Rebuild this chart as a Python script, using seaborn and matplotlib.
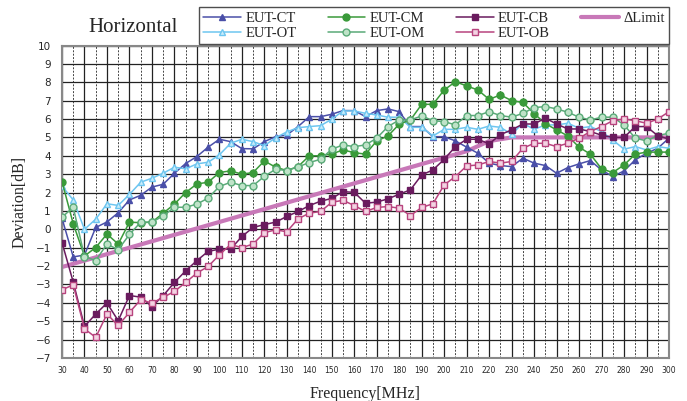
import numpy as np
import pandas as pd
import matplotlib
matplotlib.use("Agg")
import matplotlib.pyplot as plt
import seaborn as sns

freq = list(range(30, 301, 5))

eut_ct = [0.6, -1.5, -1.4, 0.1, 0.4, 0.9, 1.6, 1.85, 2.3, 2.45, 3.05, 3.58, 3.96, 4.47, 4.9,
          4.77, 4.39, 4.38, 4.77, 5.04, 5.13, 5.59, 6.13, 6.13, 6.26, 6.46, 6.46, 6.13, 6.46, 6.55,
          6.4, 5.59, 5.59, 5.04, 5.04, 4.81, 4.47, 4.14, 3.6, 3.47, 3.41, 3.87, 3.6, 3.47, 3.05,
          3.36, 3.56, 3.74, 3.23, 2.87, 3.18, 3.78, 4.14, 4.41, 4.96]
eut_ot = [2.35, 1.6, 0.0, 0.55, 1.39, 1.3, 1.9, 2.56, 2.78, 3.05, 3.38, 3.29, 3.56, 3.65, 4.05,
          4.68, 4.9, 4.77, 4.55, 4.98, 5.3, 5.53, 5.59, 5.64, 5.99, 6.44, 6.44, 6.31, 6.22, 6.1,
          6.1, 5.55, 5.55, 5.08, 5.44, 5.44, 5.55, 5.44, 5.62, 5.55, 5.17, 5.77, 5.44, 5.68, 5.68,
          5.77, 5.5, 5.59, 5.32, 4.86, 4.36, 4.5, 4.32, 4.5, 4.41]
eut_cm = [2.6, 0.3, -1.45, -0.99, -0.26, -0.8, 0.39, 0.36, 0.39, 0.88, 1.37, 2.0, 2.47, 2.56, 3.09,
          3.18, 3.0, 3.09, 3.72, 3.38, 3.2, 3.41, 4.0, 4.0, 4.1, 4.32, 4.17, 4.09, 4.81, 5.08,
          5.72, 5.95, 6.8, 6.8, 7.58, 8.03, 7.8, 7.58, 7.07, 7.31, 7.0, 6.9, 6.3, 5.75, 5.41,
          5.08, 4.47, 4.09, 3.29, 3.09, 3.5, 4.09, 4.2, 4.2, 4.2]
eut_om = [0.66, 1.2, -1.48, -1.7, -0.8, -1.11, -0.28, 0.39, 0.39, 0.73, 1.2, 1.2, 1.37, 1.7, 2.33,
          2.56, 2.38, 2.38, 2.88, 3.27, 3.2, 3.4, 3.63, 3.81, 4.36, 4.59, 4.5, 4.59, 4.96, 5.59,
          5.95, 5.95, 6.17, 5.91, 5.86, 5.68, 6.19, 6.19, 6.4, 6.19, 6.1, 6.31, 6.62, 6.68, 6.55,
          6.37, 6.1, 5.95, 6.1, 6.1, 5.68, 4.96, 4.81, 5.1, 5.23]
eut_cb = [-0.72, -2.87, -5.28, -4.61, -4.01, -4.97, -3.6, -3.69, -4.2, -3.61, -2.89, -2.26, -1.7, -1.2, -1.08,
          -1.08, -0.39, 0.1, 0.26, 0.39, 0.7, 0.97, 1.29, 1.53, 1.68, 2.05, 2.01, 1.42, 1.48, 1.66,
          1.91, 2.15, 2.96, 3.23, 3.81, 4.5, 4.9, 4.9, 4.65, 5.15, 5.41, 5.73, 5.73, 6.05, 5.73,
          5.46, 5.46, 5.32, 5.12, 5.0, 5.0, 5.59, 5.59, 5.09, 4.91]
eut_ob = [-3.29, -3.02, -5.41, -5.88, -4.61, -5.23, -4.52, -3.83, -4.01, -3.7, -3.38, -2.89, -2.38, -2.02, -1.39,
          -0.82, -1.0, -0.8, -0.18, -0.03, -0.13, 0.57, 0.88, 0.97, 1.47, 1.58, 1.29, 0.97, 1.19, 1.24,
          1.15, 0.75, 1.19, 1.39, 2.42, 2.87, 3.45, 3.5, 3.69, 3.6, 3.69, 4.41, 4.68, 4.68, 4.5,
          4.68, 4.96, 5.32, 5.59, 5.91, 6.0, 5.91, 5.77, 6.0, 6.4]
limit_freq = [30, 210, 220, 230, 300]
limit_vals = [-2.05, 4.25, 4.8, 5.0, 5.0]

x_ticks = list(range(30, 301, 10))
y_ticks = list(range(-7, 11, 1))

sns.set_theme(style="white")
plt.rcParams['font.family'] = ['DejaVu Sans']

fig = plt.figure(figsize=(6.87, 4.01), dpi=100)
ax = fig.add_axes([62/687, 1-358/401, (669-62)/687, (358-45.5)/401])

# grid
for xv in range(30, 301, 5):
    if xv % 10 == 0:
        ax.axvline(xv, color='#222222', lw=0.9, zorder=1)
    else:
        ax.axvline(xv, color='#444444', lw=0.7, ls=(0, (2, 1.5)), zorder=1)
for yv in y_ticks:
    ax.axhline(yv, color='#222222', lw=0.9, zorder=1)

series = [
    ("EUT-CT", eut_ct, '#4A4FA8', '^', '#4A4FA8'),
    ("EUT-OT", eut_ot, '#6EC6F0', '^', '#C9ECFA'),
    ("EUT-CM", eut_cm, '#3A9A3A', 'o', '#3A9A3A'),
    ("EUT-OM", eut_om, '#5AAA78', 'o', '#BFE3C8'),
    ("EUT-CB", eut_cb, '#6A1B5E', 's', '#6A1B5E'),
    ("EUT-OB", eut_ob, '#B8447E', 's', '#F3D3E2'),
]

sns.lineplot(x=limit_freq, y=limit_vals, color='#C878B8', lw=3, ax=ax,
             label='ΔLimit', zorder=2)
for name, vals, col, mk, mfc in series:
    sns.lineplot(x=freq, y=vals, color=col, lw=1.1, marker=mk, markersize=5,
                 markerfacecolor=mfc, markeredgecolor=col, markeredgewidth=1.0,
                 ax=ax, label=name, zorder=3)

ax.set_xlim(30, 300)
ax.set_ylim(-7, 10)
ax.set_xticks(x_ticks)
ax.set_yticks(y_ticks)
ax.tick_params(axis='x', labelsize=5.5, length=0, pad=6)
ax.tick_params(axis='y', labelsize=7.5, length=0, pad=8)
for s in ax.spines.values():
    s.set_color('#888888')
    s.set_linewidth(1.5)

ax.set_xlabel('Frequency[MHz]', family='Liberation Serif', fontsize=11.5, labelpad=8)
ax.set_ylabel('Deviation[dB]', family='Liberation Serif', fontsize=11.5, labelpad=6)

fig.text(88/687, 1-27/401, 'Horizontal', family='Liberation Serif', fontsize=15,
         va='center', ha='left')

handles, labels = ax.get_legend_handles_labels()
order = ["EUT-CT", "EUT-OT", "EUT-CM", "EUT-OM", "EUT-CB", "EUT-OB", "ΔLimit"]
hmap = dict(zip(labels, handles))
leg = fig.legend([hmap[k] for k in order], order, ncol=4,
                 loc='lower left', mode='expand',
                 bbox_to_anchor=(199/687, 1-44/401, 470/687, 39/401),
                 prop={'family': 'Liberation Serif', 'size': 10.5},
                 frameon=True, fancybox=False, edgecolor='#222222',
                 handlelength=2.6, handletextpad=0.3,
                 labelspacing=0.1, borderpad=0.3, borderaxespad=0)
leg.get_frame().set_linewidth(1.0)
ax.get_legend().remove()

fig.savefig('out.png', dpi=100)
